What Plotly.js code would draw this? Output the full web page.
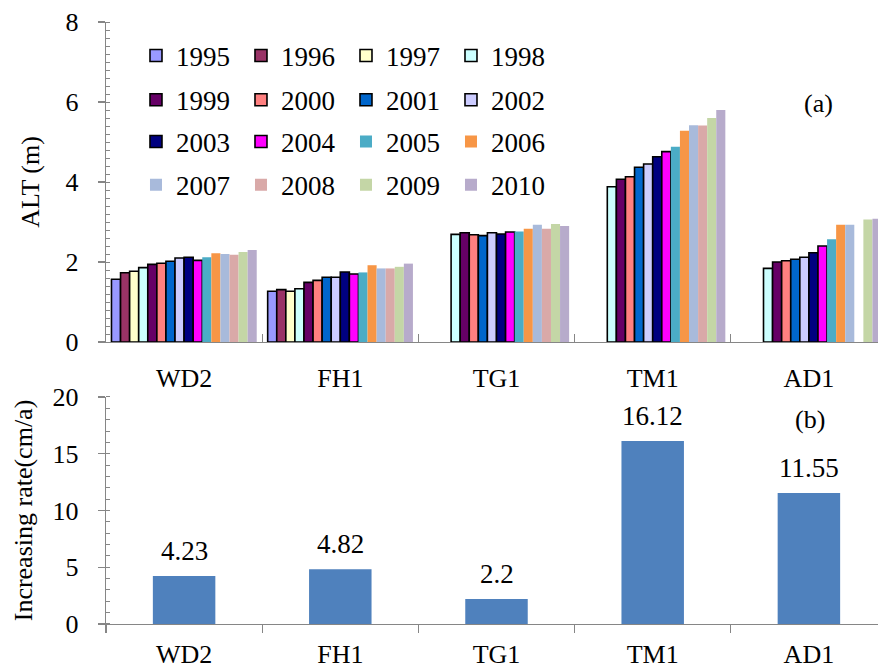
<!DOCTYPE html>
<html><head><meta charset="utf-8">
<script src="https://cdn.plot.ly/plotly-3.0.1.min.js"></script>
<style>html,body{margin:0;padding:0;overflow:hidden;background:#fff}#chart{width:900px;height:669px}</style>
</head><body><div id="chart"></div>
<script>
const sites = ['WD2', 'FH1', 'TG1', 'TM1', 'AD1'];
const years = ['1995','1996','1997','1998','1999','2000','2001','2002','2003','2004','2005','2006','2007','2008','2009','2010'];
// ALT (m) per site, one value per year 1995..2010
const altWD2 = [1.57,1.73,1.77,1.86,1.94,1.97,2.02,2.10,2.12,2.04,2.12,2.22,2.20,2.18,2.25,2.30];
const altFH1 = [1.27,1.31,1.27,1.33,1.49,1.54,1.62,1.62,1.75,1.70,1.74,1.92,1.84,1.84,1.88,1.96];
const altTG1 = [null,null,null,2.69,2.73,2.68,2.66,2.73,2.70,2.75,2.76,2.83,2.93,2.83,2.95,2.90];
const altTM1 = [null,null,null,3.88,4.07,4.13,4.37,4.45,4.63,4.76,4.88,5.28,5.42,5.41,5.60,5.80];
const altAD1 = [null,null,null,1.84,2.00,2.03,2.07,2.12,2.23,2.40,2.57,2.93,2.93,null,3.06,3.08];
// Increasing rate (cm/a)
const rates = [4.23, 4.82, 2.2, 16.12, 11.55];

const yearColors = ['#9999FF','#993366','#FFFFCC','#CCFFFF','#660066','#FF8080','#0066CC','#CCCCFF',
                    '#000080','#FF00FF','#4BACC6','#F79646','#A8BADB','#D9A9A8','#C4D6A6','#B7ABCB'];
const outlined = [true,true,true,true,true,true,true,true,true,true,false,false,false,false,false,false];

const FONT = 'Liberation Serif, Times New Roman, serif';
const siteAlt = [altWD2, altFH1, altTG1, altTM1, altAD1];
const traces = [];
years.forEach((yr, i) => {
  const row = Math.floor(i / 4);
  traces.push({
    type: 'bar', name: yr, x: sites, y: siteAlt.map(a => a[i]),
    xaxis: 'x', yaxis: 'y',
    legend: row === 0 ? 'legend' : 'legend' + (row + 1),
    marker: { color: yearColors[i], line: { color: '#000', width: outlined[i] ? 1.6 : 0 } },
    hoverinfo: 'x+y+name'
  });
});
traces.push({
  type: 'bar', x: sites, y: rates, xaxis: 'x2', yaxis: 'y2', width: 0.4,
  marker: { color: '#4F81BD' }, showlegend: false
});

const AX = '#868686';
const annotations = sites.map((s, i) => ({
  x: s, y: rates[i], xref: 'x2', yref: 'y2', text: String(rates[i]),
  showarrow: false, xanchor: 'center', yanchor: 'bottom', yshift: 8, font: { family: FONT, size: 27, color: '#000' }
}));
annotations.push({ x: 0.9117, y: 0.8654, xref: 'paper', yref: 'paper', text: '(a)', showarrow: false,
  xanchor: 'center', yanchor: 'middle', font: { family: FONT, size: 26, color: '#000' } });
annotations.push({ x: 0.9014, y: 0.3389, xref: 'paper', yref: 'paper', text: '(b)', showarrow: false,
  xanchor: 'center', yanchor: 'middle', font: { family: FONT, size: 26, color: '#000' } });

const legBase = { orientation: 'h', x: 0.0384, xanchor: 'left', yanchor: 'middle',
  font: { family: FONT, size: 27, color: '#000' }, entrywidth: 60, entrywidthmode: 'pixels',
  bgcolor: 'rgba(0,0,0,0)', borderwidth: 0, traceorder: 'normal' };

const layout = {
  width: 900, height: 669,
  margin: { l: 106, r: 13, t: 22, b: 45 },
  paper_bgcolor: '#fff', plot_bgcolor: '#fff',
  font: { family: FONT, size: 26, color: '#000' },
  barmode: 'group', bargap: 0.07, bargroupgap: 0,
  xaxis: { domain: [0, 1], anchor: 'y', type: 'category', showline: true, linecolor: AX, linewidth: 1.3,
    ticks: 'inside', tickson: 'boundaries', ticklen: 8, tickcolor: AX, tickwidth: 1.3,
    ticklabelstandoff: 12, tickfont: { family: FONT, size: 26, color: '#000' }, showgrid: false, zeroline: false },
  yaxis: { domain: [0.4684, 1], anchor: 'x', range: [0, 8], dtick: 2, showline: true, linecolor: AX, linewidth: 1.3,
    ticks: 'outside', ticklen: 7, tickcolor: AX, tickwidth: 1.3, showgrid: false, zeroline: false,
    minor: { dtick: 0.2, ticks: 'inside', ticklen: 4, tickcolor: AX, tickwidth: 1, showgrid: false },
    ticklabelstandoff: 14, tickfont: { family: FONT, size: 26, color: '#000' },
    title: { text: 'ALT (m)', standoff: 18, font: { family: FONT, size: 26, color: '#000' } } },
  xaxis2: { domain: [0, 1], anchor: 'y2', type: 'category', showline: true, linecolor: AX, linewidth: 1.3,
    ticks: 'outside', tickson: 'boundaries', ticklen: 8, tickcolor: AX, tickwidth: 1.3,
    ticklabelstandoff: 6, tickfont: { family: FONT, size: 26, color: '#000' }, showgrid: false, zeroline: false },
  yaxis2: { domain: [0, 0.3771], anchor: 'x2', range: [0, 20], dtick: 5, showline: true, linecolor: AX, linewidth: 1.3,
    ticks: 'outside', ticklen: 7, tickcolor: AX, tickwidth: 1.3, showgrid: false, zeroline: false,
    minor: { dtick: 1, ticks: 'inside', ticklen: 4, tickcolor: AX, tickwidth: 1, showgrid: false },
    ticklabelstandoff: 14, tickfont: { family: FONT, size: 26, color: '#000' },
    title: { text: 'Increasing rate(cm/a)', standoff: 12, font: { family: FONT, size: 26, color: '#000' } } },
  legend: Object.assign({}, legBase, { y: 0.9435 }),
  legend2: Object.assign({}, legBase, { y: 0.870 }),
  legend3: Object.assign({}, legBase, { y: 0.8007 }),
  legend4: Object.assign({}, legBase, { y: 0.729 }),
  annotations: annotations
};

Plotly.newPlot('chart', traces, layout, { displayModeBar: false, staticPlot: true });
</script>
</body></html>
